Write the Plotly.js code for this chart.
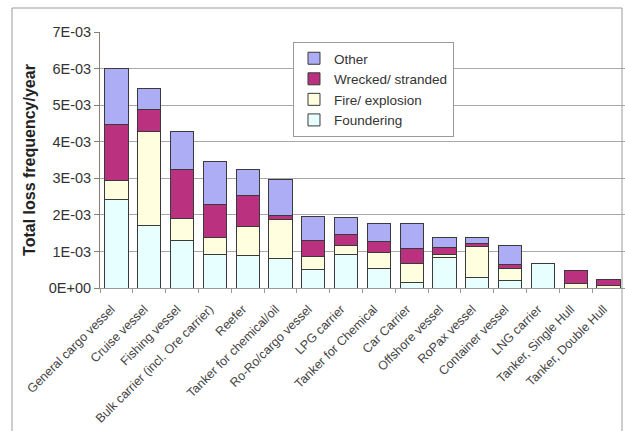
<!DOCTYPE html>
<html><head><meta charset="utf-8">
<script src="https://cdn.plot.ly/plotly-3.0.1.min.js"></script>
<style>html,body{margin:0;padding:0;background:#fff}#chart{width:625px;height:431px}</style>
</head><body><div id="chart"></div>
<script>
var categories = ["General cargo vessel","Cruise vessel","Fishing vessel","Bulk carrier (incl. Ore carrier)","Reefer","Tanker for chemical/oil","Ro-Ro/cargo vessel","LPG carrier","Tanker for Chemical","Car Carrier","Offshore vessel","RoPax vessel","Container vessel","LNG carrier","Tanker, Single Hull","Tanker, Double Hull"];
var foundering = [2.42e-3,1.70e-3,1.30e-3,0.91e-3,0.88e-3,0.80e-3,0.51e-3,0.92e-3,0.52e-3,0.14e-3,0.83e-3,0.30e-3,0.21e-3,0.66e-3,0.0,0.0];
var fire       = [0.52e-3,2.58e-3,0.61e-3,0.47e-3,0.79e-3,1.07e-3,0.34e-3,0.23e-3,0.46e-3,0.53e-3,0.08e-3,0.84e-3,0.32e-3,0.0,0.12e-3,0.07e-3];
var wrecked    = [1.53e-3,0.61e-3,1.34e-3,0.91e-3,0.85e-3,0.12e-3,0.45e-3,0.32e-3,0.29e-3,0.41e-3,0.21e-3,0.09e-3,0.10e-3,0.0,0.35e-3,0.17e-3];
var other      = [1.53e-3,0.57e-3,1.03e-3,1.16e-3,0.73e-3,0.98e-3,0.66e-3,0.46e-3,0.49e-3,0.68e-3,0.26e-3,0.15e-3,0.53e-3,0.0,0.0,0.0];
var yTickVals = [0,1e-3,2e-3,3e-3,4e-3,5e-3,6e-3,7e-3];
var yTickText = ["0E+00","1E-03","2E-03","3E-03","4E-03","5E-03","6E-03","7E-03"];

var edge = {color:'#3a3a3a', width:1};
function tr(name, vals, col){
  return {type:'bar', name:name, x:categories, y:vals, marker:{color:col, line:edge}, hoverinfo:'y+name'};
}
var data = [
  tr('Foundering', foundering, '#E8FFFF'),
  tr('Fire/ explosion', fire, '#FFFFE0'),
  tr('Wrecked/ stranded', wrecked, '#B9317F'),
  tr('Other', other, '#ADADF5')
];
var layout = {
  width:625, height:431,
  margin:{l:100, r:0, t:32, b:143},
  paper_bgcolor:'#fff', plot_bgcolor:'#fff',
  barmode:'stack', bargap:0.29,
  font:{family:'Liberation Sans, Arial, sans-serif', color:'#333'},
  showlegend:true,
  legend:{x:0.3676, y:0.961, xanchor:'left', yanchor:'top', traceorder:'reversed', itemwidth:30,
    bgcolor:'#fff', bordercolor:'#9a9a9a', borderwidth:1, font:{size:13.5, color:'#333'}},
  xaxis:{type:'category', tickangle:-45, tickfont:{size:12.5, color:'#444'}, tickson:'boundaries',
    ticklabelstandoff:8, ticklabelshift:-5,
    ticks:'outside', ticklen:4, tickcolor:'#999', showline:true, linecolor:'#999', showgrid:false,
    automargin:false, fixedrange:true},
  yaxis:{range:[0,0.007], tickvals:yTickVals, ticktext:yTickText, tickfont:{size:14.5, color:'#333'},
    ticks:'outside', ticklen:5, tickcolor:'#8a8070', showline:true, linecolor:'#8a8070',
    showgrid:true, gridcolor:'#a8a8a8', gridwidth:1, zeroline:false, automargin:false,
    title:{text:'<b>Total loss frequency/year</b>', font:{size:16, color:'#222'}, standoff:9}, fixedrange:true},
  shapes:[
    {type:'rect', xref:'paper', yref:'paper', x0:-0.1676, x1:0.9943, y0:-0.6, y1:1.09375,
     line:{color:'#9a9a9a', width:1}, fillcolor:'rgba(0,0,0,0)', layer:'below'}
  ]
};
Plotly.newPlot('chart', data, layout, {displayModeBar:false, staticPlot:true});
</script></body></html>
